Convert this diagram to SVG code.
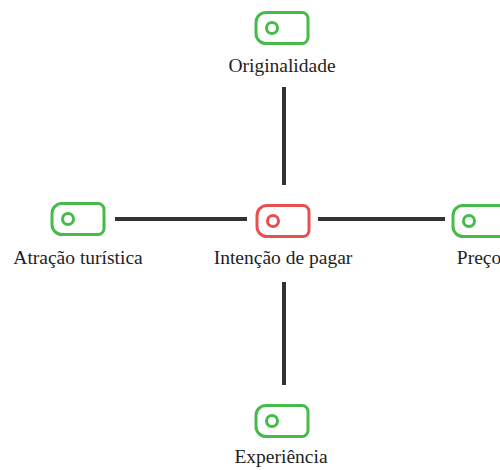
<svg xmlns="http://www.w3.org/2000/svg" width="500" height="470" viewBox="0 0 500 470">
  <style>
    .tag { fill: none; stroke-width: 3; stroke-linejoin: round; }
    .ok { stroke: #45bb4a; }
    .focus { stroke: #e5514f; }
    .label { font-family: 'Liberation Serif', 'Times New Roman', serif; font-size: 19.5px; fill: #1e1e1e; text-anchor: middle; }
    .link { stroke: #333; stroke-width: 4; }
  </style>
  <defs>
    <!-- tag icon: 52x31, centred on origin, hole on the left -->
    <g id="tagShape">
      <path d="M -16 -15.5 H 20 A 6 6 0 0 1 26 -9.5 V 9.5 A 6 6 0 0 1 20 15.5 H -16 A 10 10 0 0 1 -26 5.5 V -5.5 A 10 10 0 0 1 -16 -15.5 Z"/>
      <circle cx="-10" cy="0" r="5.5"/>
    </g>
  </defs>

  <g id="connectors">
    <line class="link" x1="284" y1="87" x2="284" y2="185"/>
    <line class="link" x1="284" y1="282" x2="284" y2="385"/>
    <line class="link" x1="115" y1="219" x2="247" y2="219"/>
    <line class="link" x1="318" y1="219" x2="445" y2="219"/>
  </g>

  <g id="originalidade">
    <use href="#tagShape" class="tag ok" x="282" y="28"/>
    <text class="label" x="282" y="72">Originalidade</text>
  </g>

  <g id="atracao">
    <use href="#tagShape" class="tag ok" x="78" y="219"/>
    <text class="label" x="78" y="264">Atração turística</text>
  </g>

  <g id="intencao">
    <use href="#tagShape" class="tag focus" x="283" y="221"/>
    <text class="label" x="283" y="264">Intenção de pagar</text>
  </g>

  <g id="preco">
    <use href="#tagShape" class="tag ok" x="479" y="221"/>
    <text class="label" x="479" y="264">Preço</text>
  </g>

  <g id="experiencia">
    <use href="#tagShape" class="tag ok" x="282" y="421"/>
    <text class="label" x="281" y="463">Experiência</text>
  </g>
</svg>
